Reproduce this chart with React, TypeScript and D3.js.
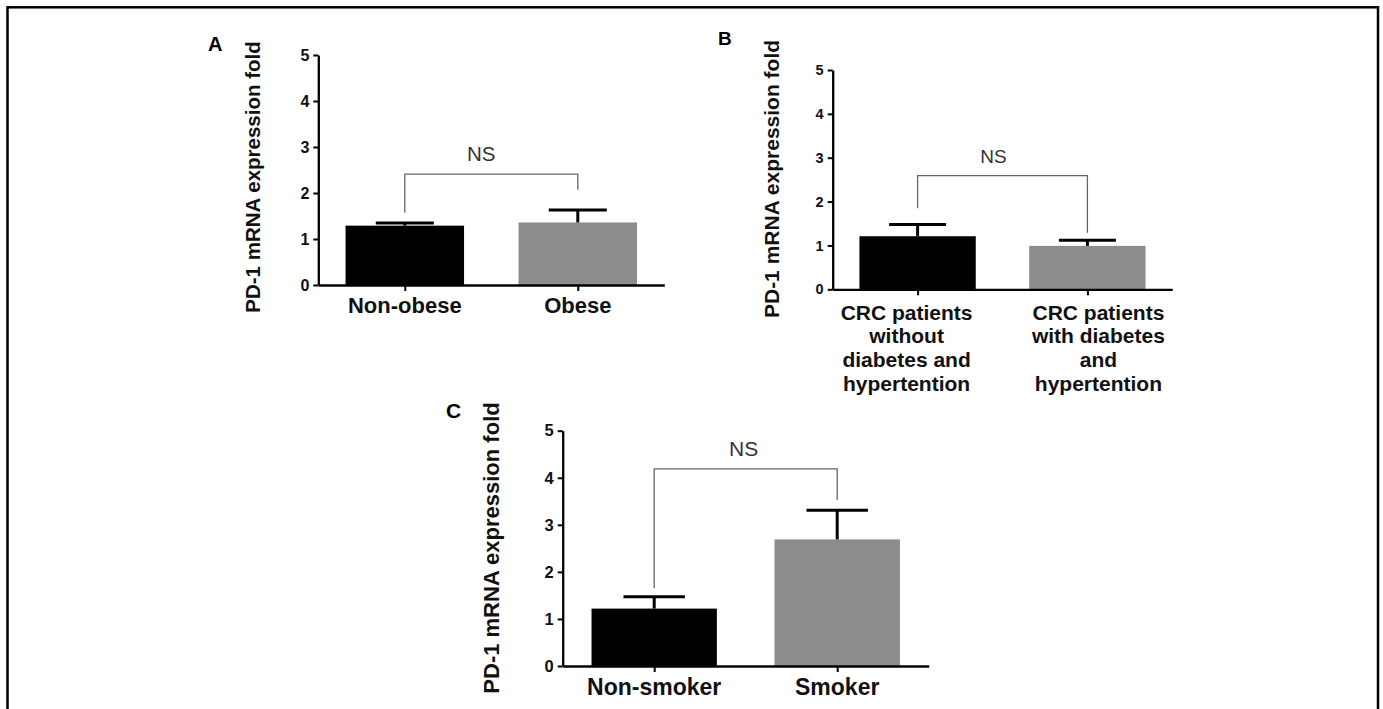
import { useEffect, useRef } from 'react';
import * as d3 from 'd3';

// values (fold change, mean and upper SEM)
const categoriesA = [['Non-obese'], ['Obese']];
const meansA = [1.29, 1.36];
const semA = [0.06, 0.27];
const bracketLegsA = [1.57, 2.07];
const bracketLevelA = 2.41;

const categoriesB = [
  ['CRC patients', 'without', 'diabetes and', 'hypertention'],
  ['CRC patients', 'with diabetes', 'and', 'hypertention'],
];
const meansB = [1.21, 0.99];
const semB = [0.27, 0.13];
const bracketLegsB = [1.85, 1.29];
const bracketLevelB = 2.59;

const categoriesC = [['Non-smoker'], ['Smoker']];
const meansC = [1.22, 2.69];
const semC = [0.25, 0.62];
const bracketLegsC = [1.65, 3.53];
const bracketLevelC = 4.19;

const yTicks = [0, 1, 2, 3, 4, 5];
const barColors = ['#000000', '#8c8c8c'];
const yTitle = 'PD-1 mRNA expression fold';
const sigLabel = 'NS';

const FONT = '"Liberation Sans", Arial, Helvetica, sans-serif';

const panels = [
  {
    id: 'A', cats: categoriesA, means: meansA, sem: semA, legs: bracketLegsA, level: bracketLevelA,
    left: 318.3, right: 664.3, top: 55, bottom: 285,
    letterX: 208, letterY: 51, letterSize: 20,
    titleX: 252, titleY: 177, titleSize: 20.5,
    tickSize: 16, labelSize: 22, labelDy: 28, labelShift: [0, 0], nsSize: 20.5, nsShift: -10,
  },
  {
    id: 'B', cats: categoriesB, means: meansB, sem: semB, legs: bracketLegsB, level: bracketLevelB,
    left: 832.7, right: 1172.3, top: 70, bottom: 289.3,
    letterX: 718, letterY: 45, letterSize: 19,
    titleX: 771, titleY: 179, titleSize: 21,
    tickSize: 14.5, labelSize: 21, labelDy: 30.5, labelShift: [-11, 11], nsSize: 19, nsShift: -9,
  },
  {
    id: 'C', cats: categoriesC, means: meansC, sem: semC, legs: bracketLegsC, level: bracketLevelC,
    left: 562.7, right: 928.7, top: 430.7, bottom: 666,
    letterX: 446, letterY: 418, letterSize: 21,
    titleX: 491, titleY: 548, titleSize: 22,
    tickSize: 16.5, labelSize: 23, labelDy: 29, labelShift: [0, 0], nsSize: 21, nsShift: -2,
  },
];

function App() {
  const svgRef = useRef<SVGSVGElement>(null);

  useEffect(() => {
    if (!svgRef.current) return;
    const svg = d3.select(svgRef.current);
    svg.selectAll('*').remove();

    // outer frame of the figure
    svg.append('rect')
      .attr('x', 7.5)
      .attr('y', 7.3)
      .attr('width', 1370.5)
      .attr('height', 760)
      .attr('fill', 'none')
      .attr('stroke', '#000')
      .attr('stroke-width', 2.5);

    panels.forEach(p => {
      const g = svg.append('g').attr('font-family', FONT);
      const keys = p.cats.map(c => c.join(' '));

      const y = d3.scaleLinear().domain([0, 5]).range([p.bottom, p.top]);
      const x = d3.scalePoint<string>().domain(keys).range([p.left, p.right]).padding(0.5);
      const bw = x.step() * 0.685;
      const capW = bw * 0.49;

      // bars
      g.selectAll('.bar')
        .data(keys)
        .enter()
        .append('rect')
        .attr('x', k => (x(k) as number) - bw / 2)
        .attr('y', (_, i) => y(p.means[i]))
        .attr('width', bw)
        .attr('height', (_, i) => y(0) - y(p.means[i]))
        .attr('fill', (_, i) => barColors[i]);

      // error bars (upper only)
      keys.forEach((k, i) => {
        const cx = x(k) as number;
        const top = y(p.means[i] + p.sem[i]);
        g.append('line')
          .attr('x1', cx).attr('x2', cx)
          .attr('y1', y(p.means[i])).attr('y2', top)
          .attr('stroke', '#000').attr('stroke-width', 3);
        g.append('line')
          .attr('x1', cx - capW / 2).attr('x2', cx + capW / 2)
          .attr('y1', top).attr('y2', top)
          .attr('stroke', '#000').attr('stroke-width', 3);
      });

      // y axis
      const yAxis = g.append('g')
        .attr('transform', `translate(${p.left},0)`)
        .call(d3.axisLeft(y).tickValues(yTicks).tickFormat(d3.format('d')).tickSize(5).tickSizeOuter(0).tickPadding(4));
      yAxis.select('.domain').attr('stroke', '#000').attr('stroke-width', 2.3);
      yAxis.selectAll('.tick line').attr('stroke', '#000').attr('stroke-width', 2);
      yAxis.selectAll('.tick text')
        .attr('font-family', FONT)
        .attr('font-size', p.tickSize)
        .attr('font-weight', 'bold')
        .attr('fill', '#111');

      // x axis
      const xAxis = g.append('g')
        .attr('transform', `translate(0,${p.bottom})`)
        .call(d3.axisBottom(x).tickSize(6).tickSizeOuter(0).tickFormat(() => ''));
      xAxis.select('.domain').attr('stroke', '#000').attr('stroke-width', 2.3);
      xAxis.selectAll('.tick line').attr('stroke', '#000').attr('stroke-width', 2);
      xAxis.selectAll('.tick text').remove();

      // category labels
      keys.forEach((k, i) => {
        const t = g.append('text')
          .attr('text-anchor', 'middle')
          .attr('font-size', p.labelSize)
          .attr('font-weight', 'bold')
          .attr('fill', '#111');
        p.cats[i].forEach((line, j) => {
          t.append('tspan')
            .attr('x', (x(k) as number) + p.labelShift[i])
            .attr('y', p.bottom + p.labelDy + j * 23.6)
            .text(line);
        });
      });

      // y title
      g.append('text')
        .attr('transform', `translate(${p.titleX},${p.titleY}) rotate(-90)`)
        .attr('text-anchor', 'middle')
        .attr('dominant-baseline', 'central')
        .attr('font-size', p.titleSize)
        .attr('font-weight', 'bold')
        .attr('fill', '#111')
        .text(yTitle);

      // panel letter
      g.append('text')
        .attr('x', p.letterX)
        .attr('y', p.letterY)
        .attr('font-size', p.letterSize)
        .attr('font-weight', 'bold')
        .attr('fill', '#000')
        .text(p.id);

      // significance bracket
      const xl = x(keys[0]) as number;
      const xr = x(keys[1]) as number;
      const path = d3.path();
      path.moveTo(xl, y(p.legs[0]));
      path.lineTo(xl, y(p.level));
      path.lineTo(xr, y(p.level));
      path.lineTo(xr, y(p.legs[1]));
      g.append('path')
        .attr('d', path.toString())
        .attr('fill', 'none')
        .attr('stroke', '#666')
        .attr('stroke-width', 1.3);

      g.append('text')
        .attr('x', (xl + xr) / 2 + p.nsShift)
        .attr('y', y(p.level) - 13)
        .attr('text-anchor', 'middle')
        .attr('font-size', p.nsSize)
        .attr('fill', '#333')
        .text(sigLabel);
    });
  }, []);

  return (
    <svg
      ref={svgRef}
      width={1383}
      height={709}
      style={{ position: 'absolute', left: 0, top: 0, display: 'block', background: '#fff' }}
    />
  );
}

export default App;
